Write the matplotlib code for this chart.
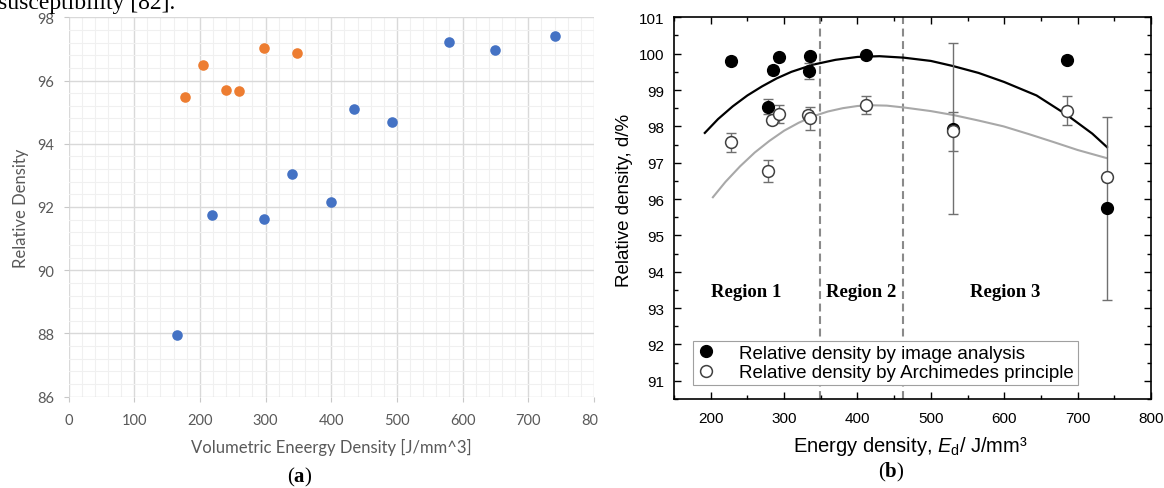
import matplotlib
matplotlib.use("Agg")
import matplotlib.pyplot as plt
from matplotlib.lines import Line2D
from matplotlib.patches import Rectangle
from matplotlib.ticker import MultipleLocator

plt.rcParams['mathtext.fontset'] = 'custom'
plt.rcParams['mathtext.rm'] = 'Liberation Sans'
plt.rcParams['mathtext.it'] = 'Liberation Sans:italic'
plt.rcParams['mathtext.bf'] = 'Liberation Serif:bold'

# (a) relative density vs volumetric energy density, two build sets
orange_x = [178, 205, 240, 259, 297, 348]
orange_y = [95.47, 96.48, 95.70, 95.67, 97.02, 96.88]
blue_x = [165, 218, 298, 340, 400, 434, 493, 580, 649, 741]
blue_y = [87.96, 91.75, 91.61, 93.04, 92.15, 95.09, 94.68, 97.22, 96.97, 97.42]

# (b) relative density by image analysis / Archimedes with error bars
img_x = [227, 278, 285, 293, 334, 336, 411, 530, 686, 740]
img_y = [99.80, 98.54, 99.55, 99.90, 99.51, 99.93, 99.95, 97.93, 99.83, 95.75]
img_err = [0.1, 0.2, 0.1, 0.1, 0.22, 0.1, 0.1, 2.35, 0.1, 2.52]
arc_x = [227, 278, 283, 293, 333, 336, 411, 530, 686, 740]
arc_y = [97.56, 96.77, 98.17, 98.34, 98.31, 98.22, 98.59, 97.86, 98.43, 96.60]
arc_err = [0.27, 0.30, 0.1, 0.25, 0.1, 0.31, 0.25, 0.53, 0.40, 0.1]

# fitted trend curves
img_fit_x = [192, 210, 230, 250, 270, 290, 310, 340, 370, 400, 430, 463,
             500, 530, 565, 600, 644, 685, 720, 740]
img_fit_y = [97.82, 98.20, 98.55, 98.85, 99.10, 99.32, 99.50, 99.70, 99.83,
             99.91, 99.93, 99.89, 99.80, 99.66, 99.47, 99.22, 98.85, 98.32,
             97.80, 97.43]
arc_fit_x = [203, 220, 240, 260, 280, 300, 320, 340, 360, 380, 400, 420,
             440, 463, 500, 531, 565, 599, 633, 667, 700, 739]
arc_fit_y = [96.05, 96.47, 96.90, 97.28, 97.60, 97.88, 98.10, 98.28, 98.41,
             98.50, 98.56, 98.58, 98.57, 98.52, 98.42, 98.31, 98.16, 98.00,
             97.79, 97.57, 97.35, 97.13]

region_x = [249, 405, 601]
region_labels = ['Region 1', 'Region 2', 'Region 3']
region_bounds = [349, 462]

W, H = 1164, 489
fig = plt.figure(figsize=(W / 100, H / 100), dpi=100)


def px_rect(x0, y0, x1, y1):
    return [x0 / W, 1 - y1 / H, (x1 - x0) / W, (y1 - y0) / H]


# ---- panel (a)
ax_a = fig.add_axes(px_rect(68.5, 18.3, 594, 397.7))
ax_a.scatter(blue_x, blue_y, s=58, color='#4472C4', linewidths=0, zorder=3)
ax_a.scatter(orange_x, orange_y, s=58, color='#ED7D31', linewidths=0, zorder=3)
ax_a.set_xlim(0, 800)
ax_a.set_ylim(86, 98)
ax_a.xaxis.set_major_locator(MultipleLocator(100))
ax_a.xaxis.set_minor_locator(MultipleLocator(20))
ax_a.yaxis.set_major_locator(MultipleLocator(2))
ax_a.yaxis.set_minor_locator(MultipleLocator(0.4))
ax_a.grid(which='major', color='#d9d9d9', lw=1.0)
ax_a.grid(which='minor', color='#f0f0f0', lw=0.8)
ax_a.set_axisbelow(True)
for s in ax_a.spines.values():
    s.set_visible(False)
ax_a.tick_params(which='major', length=3.6, width=0.8, color='#c8c8c8',
                 labelcolor='#595959', labelsize=10.5, labelfontfamily='Lato')
ax_a.tick_params(axis='y', pad=7)
ax_a.tick_params(axis='x', pad=8)
ax_a.tick_params(which='minor', length=0)
ax_a.set_xlabel('Volumetric Eneergy Density [J/mm^3]', family='Lato',
                size=12, color='#595959')
ax_a.set_ylabel('Relative Density', family='Lato', size=12, color='#595959')
ax_a.xaxis.set_label_coords(0.4995, -0.108)
ax_a.yaxis.set_label_coords(-0.075, 0.5)

# ---- panel (b)
ax_b = fig.add_axes(px_rect(674, 18.3, 1151, 400))
for xb in region_bounds:
    ax_b.axvline(xb, color='#8a8a8a', lw=1.5, ls=(0, (3.8, 2.2)), zorder=1)
ax_b.plot(img_fit_x, img_fit_y, color='black', lw=1.6, zorder=2)
ax_b.plot(arc_fit_x, arc_fit_y, color='#a8a8a8', lw=1.5, zorder=2)
ax_b.errorbar(img_x, img_y, yerr=img_err, fmt='none', ecolor='#707070',
              elinewidth=1, capsize=3.5, capthick=1, zorder=2.5)
ax_b.errorbar(arc_x, arc_y, yerr=arc_err, fmt='none', ecolor='#707070',
              elinewidth=1, capsize=3.5, capthick=1, zorder=2.5)
ax_b.plot(img_x, img_y, ls='none', marker='o', ms=8.5, mfc='black',
          mec='black', zorder=3)
ax_b.plot(arc_x, arc_y, ls='none', marker='o', ms=8.5, mfc='white',
          mec='#404040', mew=1.1, zorder=4)
for rx, rl in zip(region_x, region_labels):
    ax_b.text(rx, 93.45, rl, ha='center', va='center',
              family='Liberation Serif', weight='bold', size=13.5)

ax_b.set_xlim(150, 800)
ax_b.set_ylim(90.5, 101)
ax_b.xaxis.set_major_locator(MultipleLocator(100))
ax_b.xaxis.set_minor_locator(MultipleLocator(50))
ax_b.yaxis.set_major_locator(MultipleLocator(1))
ax_b.yaxis.set_minor_locator(MultipleLocator(0.5))
for s in ax_b.spines.values():
    s.set_linewidth(1.2)
ax_b.tick_params(which='both', direction='in', top=True, right=True,
                 width=1.0, labelsize=11, labelfontfamily='Liberation Sans')
ax_b.tick_params(which='major', length=5)
ax_b.tick_params(which='minor', length=3)
ax_b.tick_params(axis='y', pad=7)
ax_b.tick_params(axis='x', pad=9)
ax_b.set_xlabel('Energy density, $E_\\mathrm{d}$/ J/mm\u00b3',
                family='Liberation Sans', size=14.5)
ax_b.set_ylabel('Relative density, d/%', family='Liberation Sans', size=13.5)
ax_b.xaxis.set_label_coords(0.495, -0.092)
ax_b.yaxis.set_label_coords(-0.085, 0.524)

handles = [
    Line2D([0], [0], ls='none', marker='o', ms=8.5, mfc='black', mec='black'),
    Line2D([0], [0], ls='none', marker='o', ms=8.5, mfc='white',
           mec='#404040', mew=1.1),
]
leg = ax_b.legend(handles, ['Relative density by image analysis',
                            'Relative density by Archimedes principle'],
                  loc='lower left', bbox_to_anchor=(0.0388, 0.0367),
                  borderaxespad=0, fancybox=False, framealpha=1,
                  edgecolor='#a0a0a0', handlelength=1.0, handletextpad=1.3,
                  borderpad=0.2, labelspacing=0.12,
                  prop={'family': 'Liberation Sans', 'size': 13.5})
leg.get_frame().set_linewidth(0.8)

# ---- surrounding page text
fig.text(-2 / W, 1 - 9.5 / H, 'susceptibility [82].', family='Liberation Serif',
         size=17, ha='left', va='baseline')
fig.text(300 / W, 1 - 477 / H, '($\\mathbf{a}$)', family='Liberation Serif',
         size=15, ha='center', va='center')
fig.text(891 / W, 1 - 472 / H, '($\\mathbf{b}$)', family='Liberation Serif',
         size=15, ha='center', va='center')

# panel (a) image is trimmed at its right edge
fig.add_artist(Rectangle((598 / W, 1 - 440 / H), 13 / W, 35 / H,
                         transform=fig.transFigure, color='white', zorder=10))

fig.savefig('out.png', dpi=100, facecolor='white')
